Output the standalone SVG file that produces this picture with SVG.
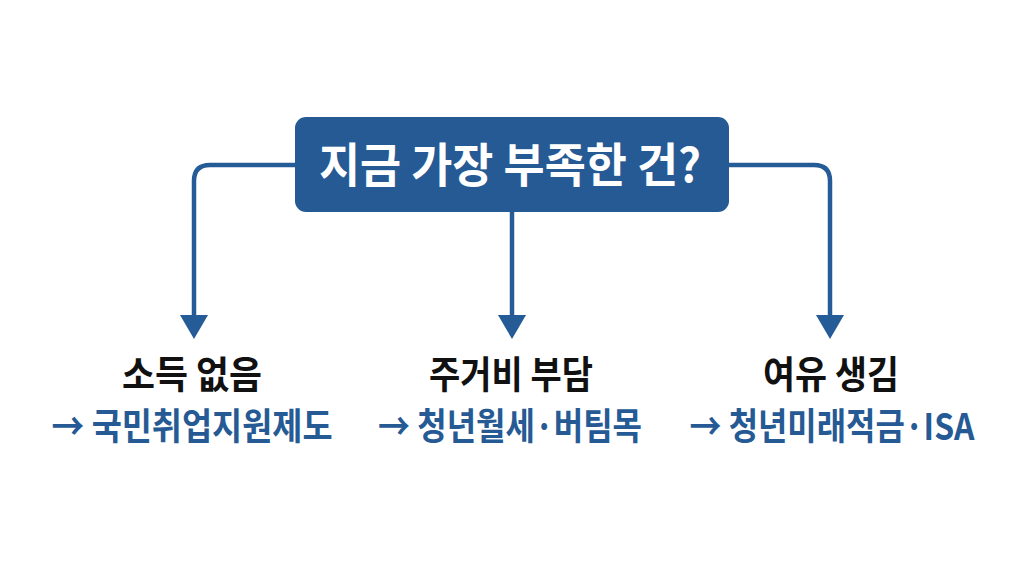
<svg xmlns="http://www.w3.org/2000/svg" width="1024" height="572" viewBox="0 0 1024 572">
  <defs>
    <style>
      .conn { fill: none; stroke: #255b96; stroke-width: 4.5; stroke-linecap: butt; }
      .head { fill: #255b96; }
      .title { font-family: "Noto Sans CJK KR", "Noto Sans", sans-serif; font-weight: 700; font-size: 47px; fill: #ffffff; text-anchor: middle; }
      .lab { font-family: "Noto Sans CJK KR", "Noto Sans", sans-serif; font-weight: 700; font-size: 38px; fill: #111111; text-anchor: middle; }
      .sub { font-family: "Noto Sans CJK KR", "Noto Sans", sans-serif; font-weight: 700; font-size: 37px; fill: #265a95; text-anchor: middle; }
    </style>
  </defs>
  <rect width="1024" height="572" fill="#ffffff"/>
  <g id="connectors">
    <path class="conn" d="M296 165 H210 Q194 165 194 181 V318"/>
    <path class="conn" d="M512 212 V318"/>
    <path class="conn" d="M728 165 H814 Q830 165 830 181 V318"/>
    <polygon class="head" points="180,315 208,315 194,339"/>
    <polygon class="head" points="498,315 526,315 512,339"/>
    <polygon class="head" points="816,315 844,315 830,339"/>
  </g>
  <g id="root">
    <rect x="295" y="117" width="434" height="95" rx="11" fill="#255a94"/>
    <text class="title" x="510" y="182" textLength="382" lengthAdjust="spacingAndGlyphs">지금 가장 부족한 건?</text>
  </g>
  <g id="node-income">
    <text class="lab" x="192" y="388" textLength="140" lengthAdjust="spacingAndGlyphs">소득 없음</text>
    <text class="sub" x="192" y="440" textLength="281" lengthAdjust="spacingAndGlyphs">→ 국민취업지원제도</text>
  </g>
  <g id="node-housing">
    <text class="lab" x="511" y="388" textLength="164" lengthAdjust="spacingAndGlyphs">주거비 부담</text>
    <text class="sub" x="510" y="440" textLength="264" lengthAdjust="spacingAndGlyphs">→ 청년월세·버팀목</text>
  </g>
  <g id="node-surplus">
    <text class="lab" x="831" y="388" textLength="136" lengthAdjust="spacingAndGlyphs">여유 생김</text>
    <text class="sub" x="832" y="440" textLength="285" lengthAdjust="spacingAndGlyphs">→ 청년미래적금·ISA</text>
  </g>
</svg>
